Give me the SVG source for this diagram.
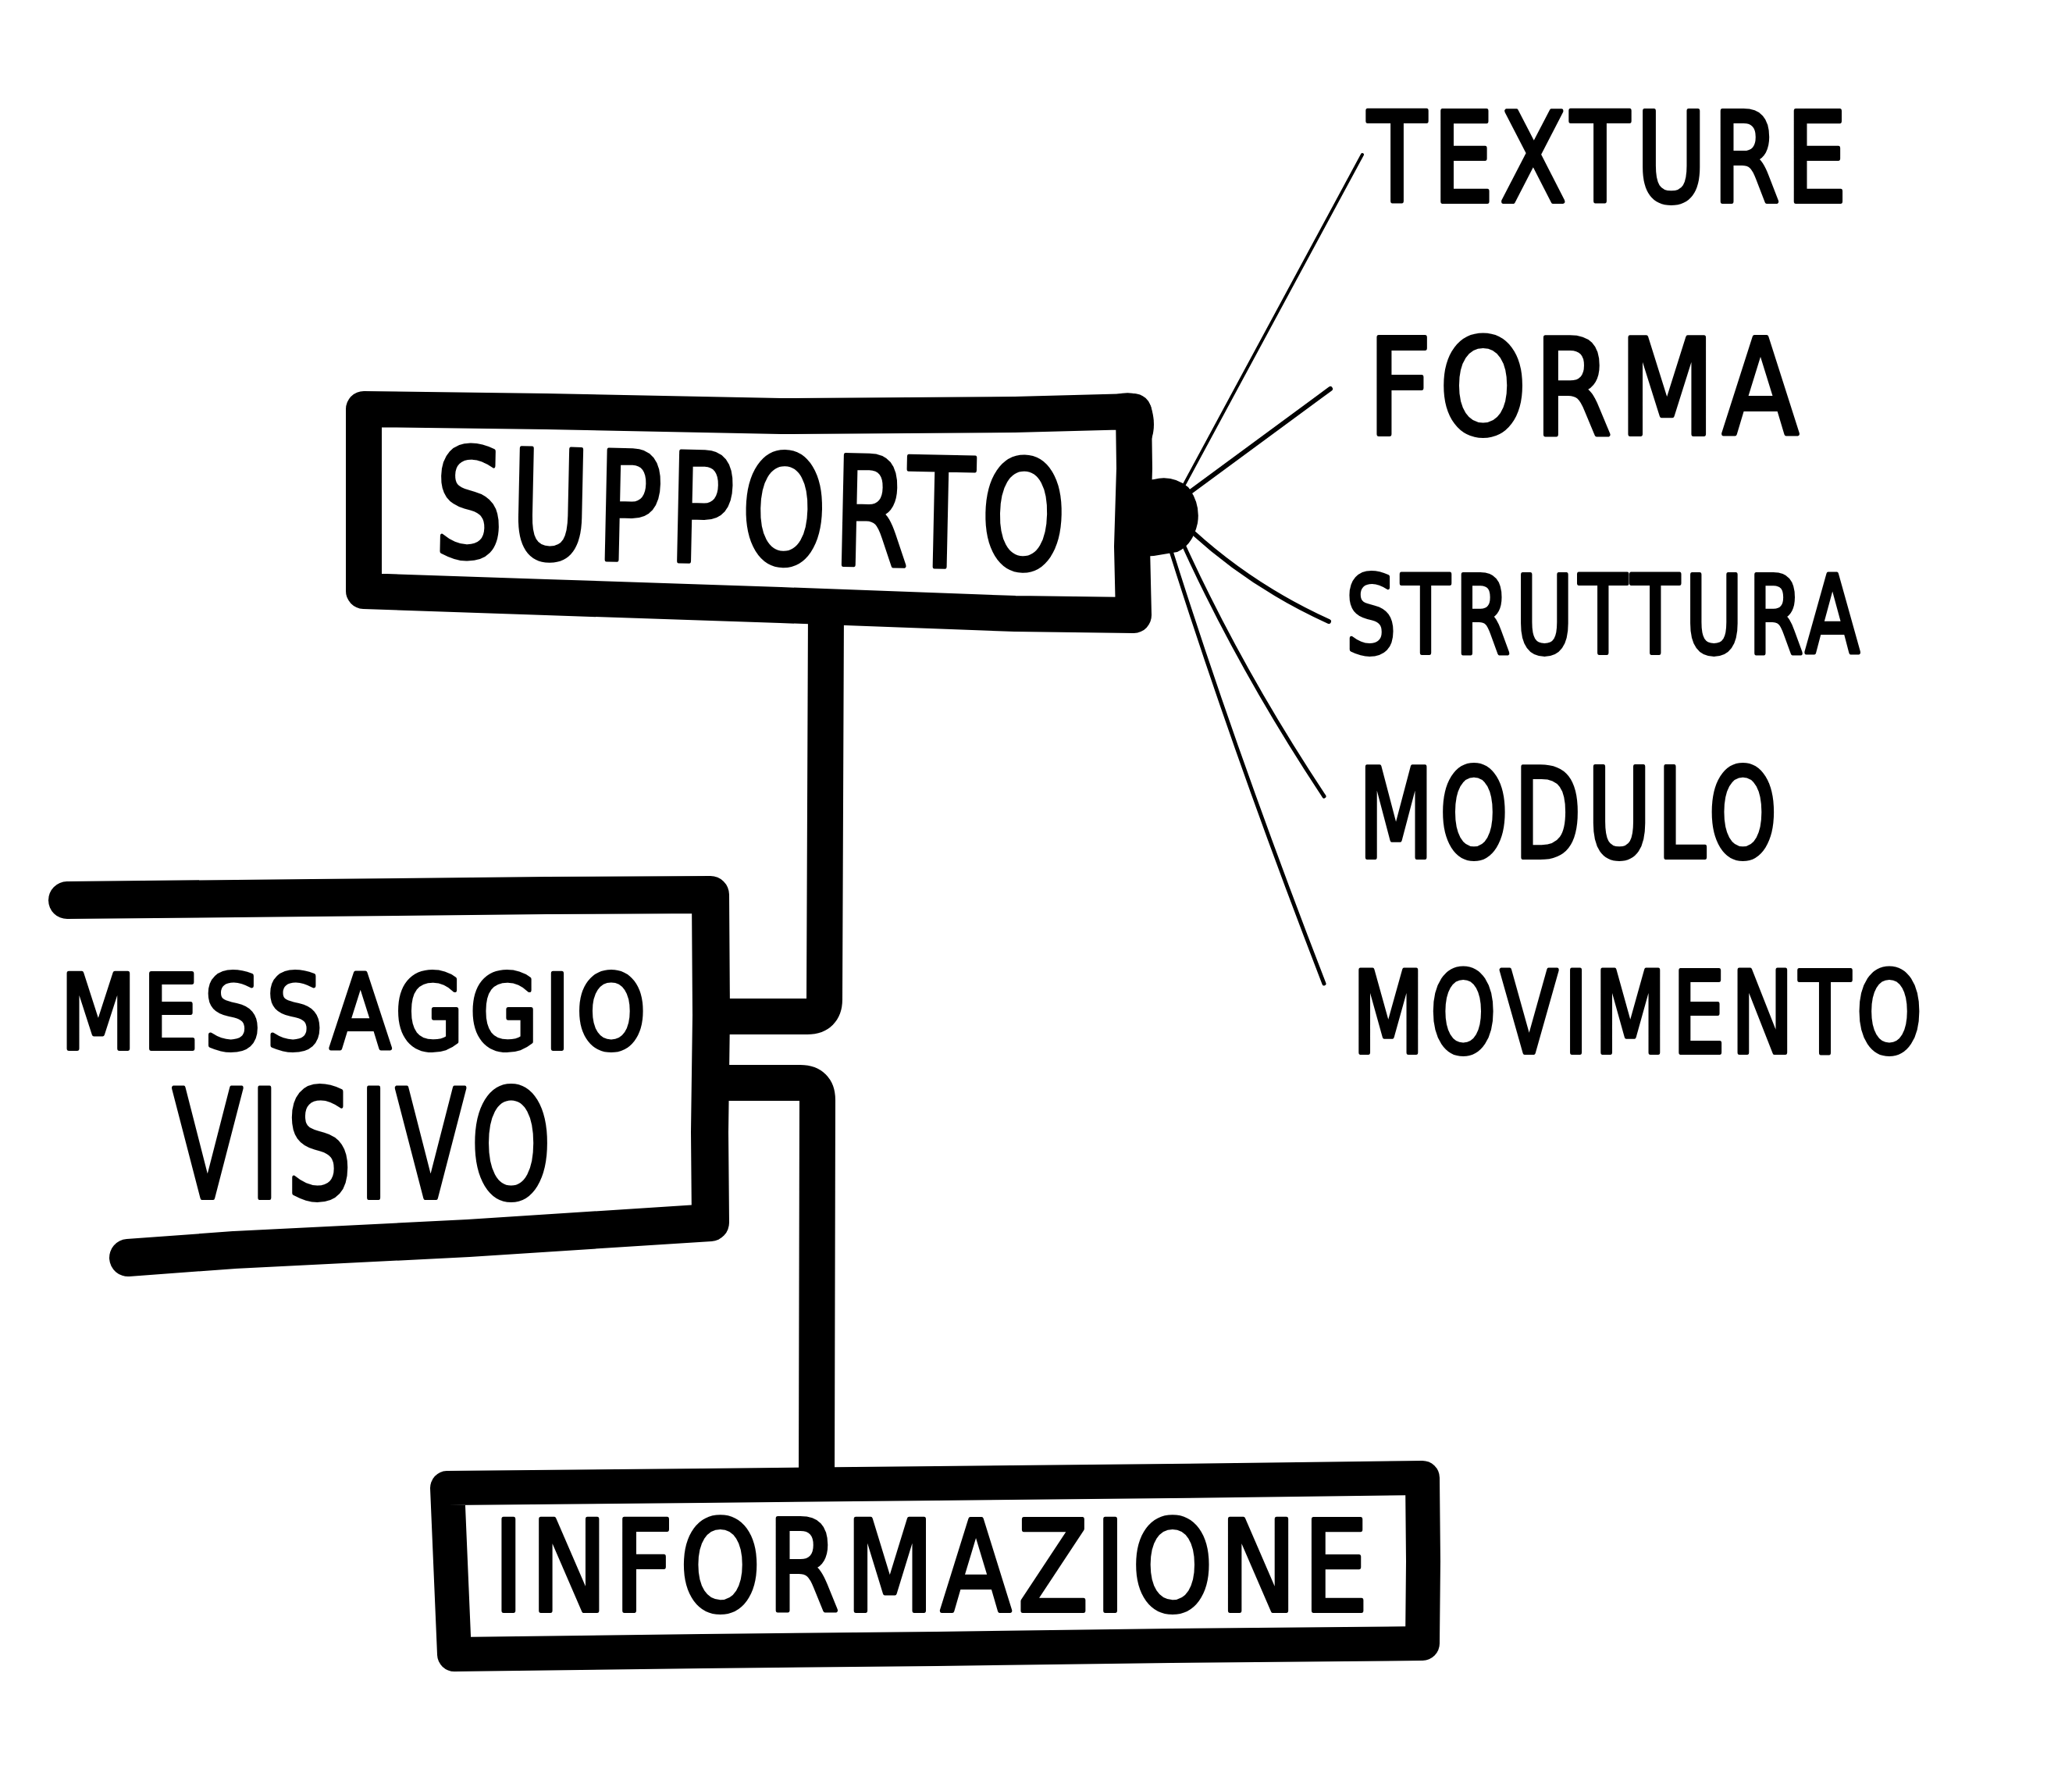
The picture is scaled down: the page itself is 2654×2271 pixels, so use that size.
<svg xmlns="http://www.w3.org/2000/svg" width="2654" height="2271" viewBox="0 0 2654 2271">
<style>
.box{fill:none;stroke:#000;stroke-linejoin:round;stroke-linecap:round}
.bar{fill:none;stroke:#000;stroke-linejoin:round;stroke-linecap:butt}
.ray{fill:none;stroke:#000;stroke-linecap:round}
.lbl{font-family:"DejaVu Sans","Liberation Sans",sans-serif;fill:#000;stroke:#000;stroke-width:6;stroke-linejoin:round}
</style>
<rect width="2654" height="2271" fill="#fff"/>
<g id="connectors">
  <path class="bar" stroke-width="46" d="M 1058 780 L 1056 1280 Q 1056 1302 1034 1302 L 905 1302"/>
  <path class="bar" stroke-width="46" d="M 905 1387 L 1025 1387 Q 1047 1387 1047 1409 L 1046 1900"/>
  <path fill="#000" d="M 1445 618 L 1478 614 Q 1502 608 1522 624 Q 1538 645 1534 670 Q 1528 698 1508 707 L 1478 712 L 1445 714 Z"/>
  <path class="ray" stroke-width="4" d="M 1514 626 Q 1625 420 1745 198"/>
  <path class="ray" stroke-width="6" d="M 1522 632 L 1704 498"/>
  <path class="ray" stroke-width="6" d="M 1528 682 Q 1605 752 1702 796"/>
  <path class="ray" stroke-width="5" d="M 1516 698 Q 1590 860 1696 1020"/>
  <path class="ray" stroke-width="5" d="M 1500 706 Q 1580 960 1696 1260"/>
</g>
<g id="supporto">
  <path class="box" stroke-width="46" d="M 466 524 L 700 527 L 1000 533 L 1300 531 L 1452 527 L 1453 600 L 1450 700 L 1452 788 L 1300 786 L 1000 775 L 700 765 L 466 757 Z"/>
  <path fill="#000" d="M 1430 505 Q 1462 498 1474 520 Q 1482 545 1474 565 L 1440 565 Z"/>
  <text class="lbl" font-size="192" letter-spacing="13" transform="translate(556 712) rotate(1.2) scale(0.719 1)">SUPPORTO</text>
</g>
<g id="messaggio-visivo">
  <path class="box" stroke-width="48" d="M 86 1153 L 400 1150 L 700 1147 L 910 1146 L 911 1300 L 909 1450 L 910 1566 L 600 1586 L 300 1601 L 164 1611"/>
  <text class="lbl" font-size="132" letter-spacing="9" transform="translate(77 1343) scale(0.858 1)">MESSAGGIO</text>
  <text class="lbl" font-size="192" letter-spacing="13" transform="translate(221 1534) scale(0.683 1)">VISIVO</text>
</g>
<g id="informazione">
  <path class="box" stroke-width="44" d="M 573 1906 L 900 1903 L 1200 1900 L 1500 1897 L 1822 1893 L 1823 2000 L 1822 2105 L 1500 2108 L 1200 2112 L 900 2115 L 582 2119 Z"/>
  <text class="lbl" font-size="160" letter-spacing="11" transform="translate(632 2063) scale(0.819 1)">INFORMAZIONE</text>
</g>
<g id="texture"><text class="lbl" font-size="158" letter-spacing="11" transform="translate(1752 258) scale(0.777 1)">TEXTURE</text></g>
<g id="forma"><text class="lbl" font-size="170" letter-spacing="12" transform="translate(1752 556) scale(0.835 1)">FORMA</text></g>
<g id="struttura"><text class="lbl" font-size="137" letter-spacing="10" transform="translate(1724 836) scale(0.735 1)">STRUTTURA</text></g>
<g id="modulo"><text class="lbl" font-size="158" letter-spacing="11" transform="translate(1740 1098) scale(0.706 1)">MODULO</text></g>
<g id="movimento"><text class="lbl" font-size="144" letter-spacing="10" transform="translate(1732 1348) scale(0.745 1)">MOVIMENTO</text></g>
</svg>
